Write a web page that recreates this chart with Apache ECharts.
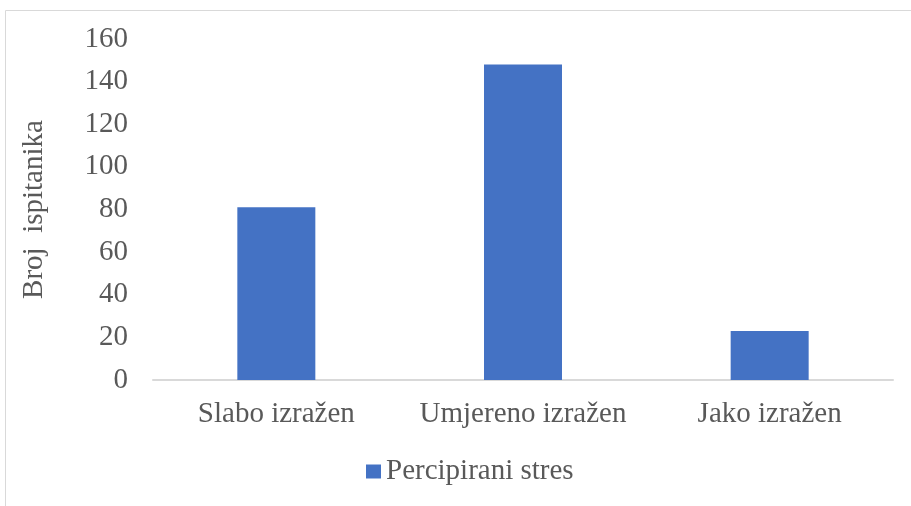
<!DOCTYPE html>
<html>
<head>
<meta charset="utf-8">
<script src="https://cdn.jsdelivr.net/npm/echarts@6/dist/echarts.min.js"></script>
<style>
html, body { margin: 0; padding: 0; background: #fff; }
#chart { width: 911px; height: 506px; }
</style>
</head>
<body>
<div id="chart"></div>
<script>
const categories = ['Slabo izražen', 'Umjereno izražen', 'Jako izražen'];
const stresValues = [81, 148, 23];
const seriesName = 'Percipirani stres';
const yAxisTitle = 'Broj  ispitanika';

const chart = echarts.init(document.getElementById('chart'));
const font = '"Liberation Serif", "Times New Roman", serif';
const textColor = '#595959';
const fs = 29;

const option = {
    animation: false,
    textStyle: { fontFamily: font },
    graphic: [{
        type: 'rect',
        shape: { x: 5.5, y: 10.5, width: 930, height: 520 },
        style: { fill: 'none', stroke: '#d9d9d9', lineWidth: 1 },
        silent: true
    }],
    grid: { left: 153, right: 18, top: 39, bottom: 126 },
    legend: {
        data: [seriesName],
        left: 361,
        top: 452,
        itemWidth: 15,
        itemHeight: 14,
        itemGap: 6,
        icon: 'rect',
        textStyle: { fontFamily: font, fontSize: fs, color: textColor }
    },
    xAxis: {
        type: 'category',
        data: categories,
        axisLine: { lineStyle: { color: '#d9d9d9', width: 2 } },
        axisTick: { show: false },
        axisLabel: {
            interval: 0,
            hideOverlap: false,
            fontFamily: font,
            fontSize: fs,
            color: textColor,
            margin: 20
        }
    },
    yAxis: {
        type: 'value',
        min: 0,
        max: 160,
        interval: 20,
        name: yAxisTitle,
        nameLocation: 'middle',
        nameGap: 104,
        nameTextStyle: { fontFamily: font, fontSize: fs, color: textColor },
        splitLine: { show: false },
        axisLine: { show: false },
        axisTick: { show: false },
        axisLabel: { fontFamily: font, fontSize: fs, color: textColor, margin: 25 }
    },
    series: [{
        name: seriesName,
        type: 'bar',
        data: stresValues,
        barWidth: 78,
        itemStyle: { color: '#4472c4' }
    }]
};

chart.setOption(option);
</script>
</body>
</html>
